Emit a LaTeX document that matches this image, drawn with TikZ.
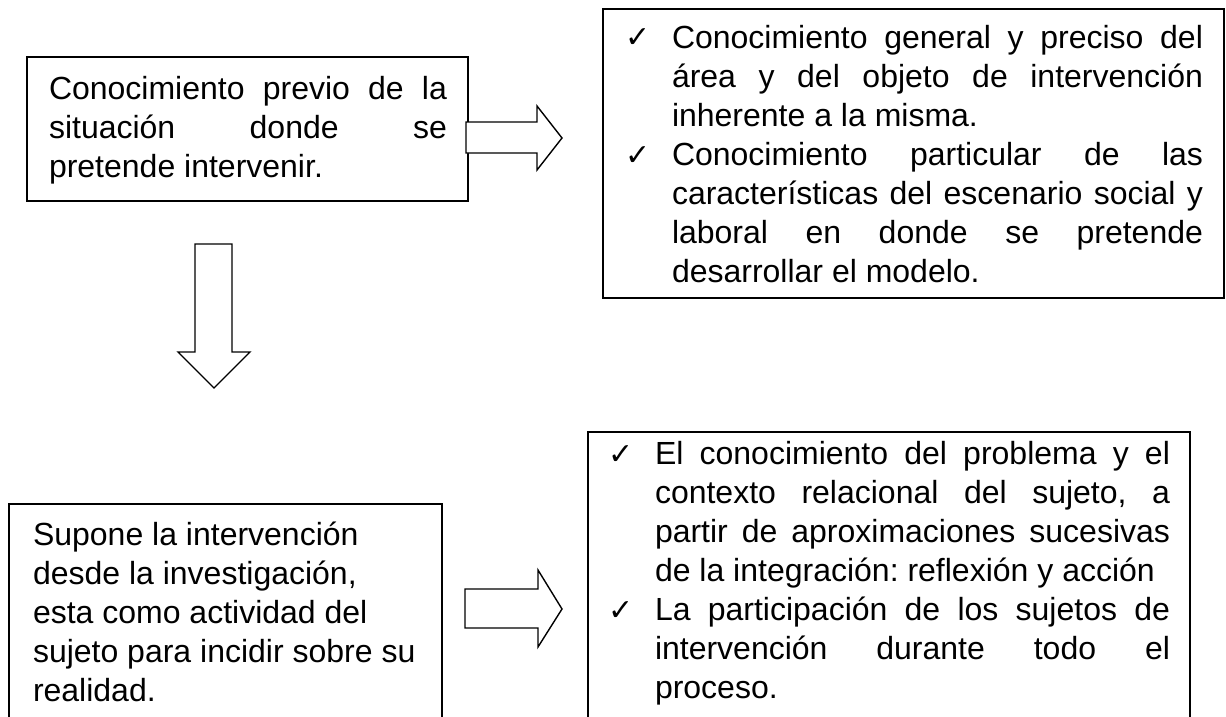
\documentclass[tikz,border=0pt]{standalone}
\usepackage{fontspec}
\setmainfont{Liberation Sans}
\newfontfamily\symfont{DejaVu Sans}
\newcommand\jline[2]{\makebox[#1][s]{#2}}
\frenchspacing
\begin{document}
\begin{tikzpicture}[x=1pt,y=-1pt,
  box/.style={draw=black, line width=1.6pt, anchor=north west, inner sep=0pt, outer sep=0pt},
  blockarrow/.style={draw=black, line width=1.4pt, fill=white, line join=miter},
  txt/.style={anchor=base west, inner sep=0pt, outer sep=0pt, font=\fontsize{32}{39}\selectfont, align=left},
  chk/.style={anchor=base west, inner sep=0pt, outer sep=0pt, font=\symfont\fontsize{30}{36}\selectfont}]
\useasboundingbox (0,0) rectangle (1226,717);
\clip (0,0) rectangle (1226,717);
\fill[white] (0,0) rectangle (1226,717);

% boxes
\node[box, minimum width=441pt, minimum height=144pt] (b1) at (27,57) {};
\node[box, minimum width=621pt, minimum height=289pt] (b2) at (603,9) {};
\node[box, minimum width=433pt, minimum height=260pt] (b3) at (9,504) {};
\node[box, minimum width=602pt, minimum height=320pt] (b4) at (588,432) {};

% texts (anchor = baseline of the last line)
\node[txt] (t1) at (49,177) {\jline{398pt}{Conocimiento previo de la}\\
\jline{398pt}{situación donde se}\\
pretende intervenir.};

\node[chk] (c21) at (625,48) {✓};
\node[txt] (t2) at (672,126) {\jline{531pt}{Conocimiento general y preciso del}\\
\jline{531pt}{área y del objeto de intervención}\\
inherente a la misma.};
\node[chk] (c22) at (625,165) {✓};
\node[txt] (t2b) at (672,282) {\jline{531pt}{Conocimiento particular de las}\\
\jline{531pt}{características del escenario social y}\\
\jline{531pt}{laboral en donde se pretende}\\
desarrollar el modelo.};

\node[txt] (t3) at (33,701) {Supone la intervención\\
desde la investigación,\\
esta como actividad del\\
sujeto para incidir sobre su\\
realidad.};

\node[chk] (c41) at (608,464) {✓};
\node[txt] (t4) at (655,581) {\jline{515pt}{El conocimiento del problema y el}\\
\jline{515pt}{contexto relacional del sujeto, a}\\
\jline{515pt}{partir de aproximaciones sucesivas}\\
de la integración: reflexión y acción};
\node[chk] (c42) at (608,620) {✓};
\node[txt] (t4b) at (655,698) {\jline{515pt}{La participación de los sujetos de}\\
\jline{515pt}{intervención durante todo el}\\
proceso.};

% block arrows
\draw[blockarrow] (466,122) -- (537,122) -- (537,106) -- (562,138) -- (537,170) -- (537,153) -- (466,153) -- cycle;
\draw[blockarrow] (195,244) -- (232,244) -- (232,352) -- (250,352) -- (214,388) -- (178,352) -- (195,352) -- cycle;
\draw[blockarrow] (465,589) -- (538,589) -- (538,570) -- (562,609) -- (538,647) -- (538,628) -- (465,628) -- cycle;
\end{tikzpicture}
\end{document}
